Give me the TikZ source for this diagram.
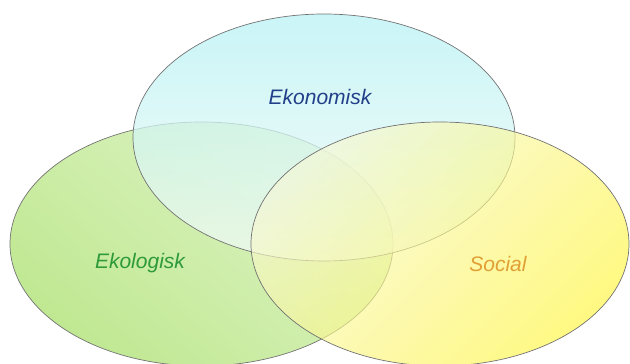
\documentclass[tikz,border=0pt]{standalone}
\usepackage{fontspec}
\setmainfont{Liberation Sans}
\definecolor{ekocyan}{HTML}{B8F1F4}
\definecolor{ekocyanlt}{HTML}{F2FBF4}
\definecolor{ekogreen}{HTML}{C0E892}
\definecolor{ekogreenlt}{HTML}{DEF4C6}
\definecolor{socyellow}{HTML}{FFF640}
\definecolor{socyellowlt}{HTML}{F6F7D6}
\definecolor{ekonomtxt}{HTML}{22408A}
\definecolor{ekologtxt}{HTML}{2E9A3A}
\definecolor{socialtxt}{HTML}{E0A035}
\tikzset{%
    rim/.style={draw=black!55,line width=0.7pt},
    lbl/.style={font=\itshape\fontsize{21}{24}\selectfont,inner sep=0pt}
}

\begin{document}
\begin{tikzpicture}[x=1pt,y=1pt]
        \useasboundingbox (0,0) rectangle (630,364);
        \begin{scope}
            \clip (0,0) rectangle (630,364);
            \path[rim,bottom color=ekogreen,top color=ekogreenlt,shading angle=-40]
                (201.5,120) ellipse (191.5 and 122);
            \path[rim,fill opacity=0.75,bottom color=ekocyanlt,top color=ekocyan]
                (324,226.5) ellipse (191 and 123.5);
            \path[rim,fill opacity=0.65,bottom color=socyellow,top color=socyellowlt,shading angle=45]
                (440,120) ellipse (189 and 122);
        \end{scope}
        \node[lbl,text=ekonomtxt] (ekonomisk) at (320,267){Ekonomisk};
        \node[lbl,text=ekologtxt] (ekologisk) at (140,101){Ekologisk};
        \node[lbl,text=socialtxt] (social) at (498,100){Social};
    \end{tikzpicture}
\end{document}
